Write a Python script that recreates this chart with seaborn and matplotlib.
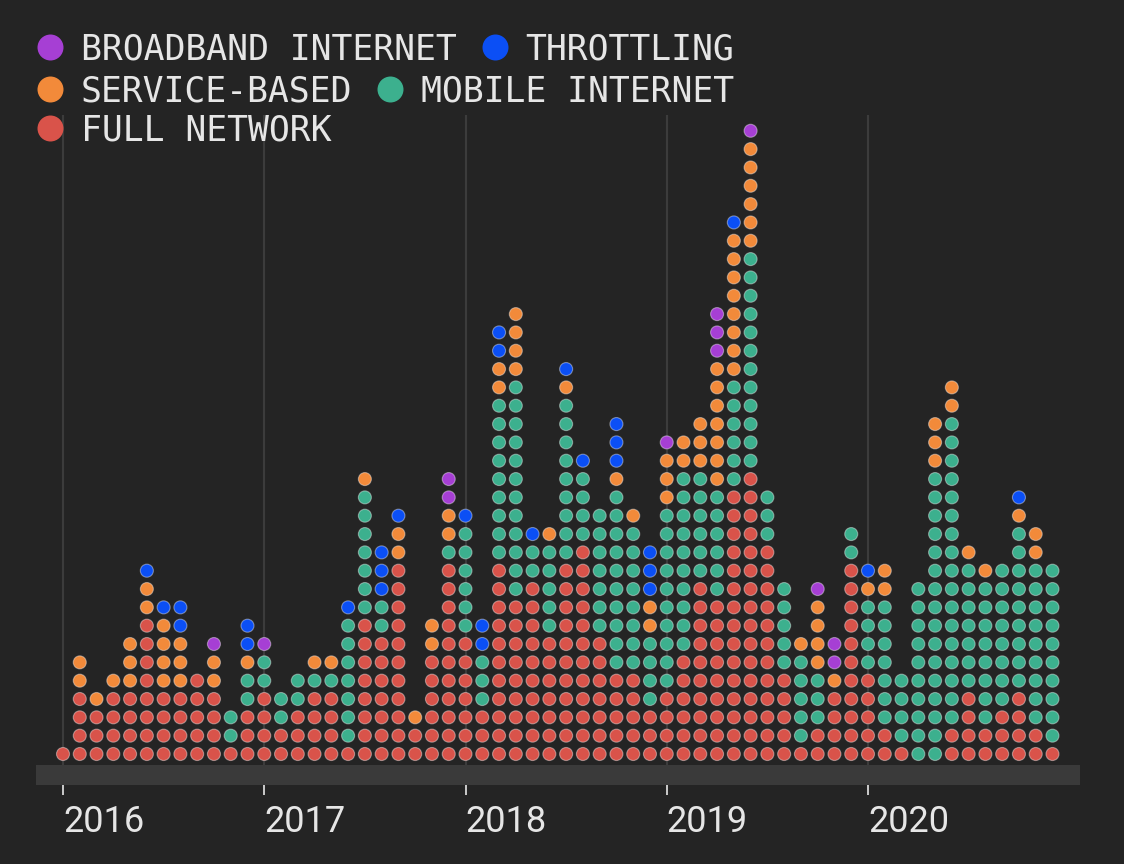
import numpy as np
import pandas as pd
import seaborn as sns
import matplotlib.pyplot as plt

# shutdown types, legend order
categories = ["BROADBAND INTERNET", "THROTTLING", "SERVICE-BASED", "MOBILE INTERNET", "FULL NETWORK"]
codes = ["B", "T", "S", "M", "F"]
colors = ["#a63fd4", "#0b4ff5", "#f28a3a", "#3cb08e", "#d9534a"]
years = [2016, 2017, 2018, 2019, 2020]

# one string per month (Jan..Dec), events stacked from the bottom up
stacks_2016 = ["F", "FFFFSS", "FFFS", "FFFFS", "FFFFSSS", "FFFFFFFFSST",
               "FFFFSSSST", "FFFFSSSTT", "FFFFF", "FFFFSSB", "FMM", "FFFMMSTT"]
stacks_2017 = ["FFFFMMB", "FFMM", "FFFMM", "FFFFMS", "FFFFMS", "FMMMMMMMT",
               "FFFFFFFFMMMMMMMS", "FFFFFFFMMTTT", "FFFFFFFFFFFSST", "FFS",
               "FFFFFFSS", "FFFFFFFFFFFMSSBB"]
stacks_2018 = ["FFFFFFFMMMMMMT", "FFFMMMTT", "FFFFFFFFFFFMMMMMMMMMSSTT",
               "FFFFFFFFFMMMMMMMMMMMMSSSS", "FFFFFFFFFFMMT", "FFFFFFFMMMMMS",
               "FFFFFFFFFFFMMMMMMMMMST", "FFFFFFFFFFFFMMMMT", "FFFFFFFMMMMMMM",
               "FFFFFMMMMMMMMMMSTTT", "FFFFFMMMMMMMMS", "FFFMMMMSSTTT"]
stacks_2019 = ["FFFFMMMMMMMMMMSSSB", "FFFFFFMMMMMMMMMMSS", "FFFFFFFFFFMMMMMMSSS",
               "FFFFFFFFFMMMMMMSSSSSSSBBB", "FFFFFFFFFFFFFFFMMMMMMSSSSSSSST",
               "FFFFFFFFFFFFFFFFMMMMMMMMMMMMSSSSSSB", "FFFFFFFFFFFFMMM",
               "FFFFFMMMMM", "FMMMMMS", "FFMMMSSSSB", "FFFFSBB", "FFFFFFFFFFFMM"]
stacks_2020 = ["FFFFFMMMMST", "FFMMMMMMMSS", "FMMMM", "MMMMMMMMMM",
               "MMMMMMMMMMMMMMMMSSS", "FFMMMMMMMMMMMMMMMMMSS", "FFFFMMMMMMMS",
               "FFMMMMMMMMS", "FFFMMMMMMMM", "FFFFMMMMMMMMMST", "FFMMMMMMMMMSS",
               "FMMMMMMMMMM"]

bg = "#242424"
band = "#3a3a3a"
txt = "#e6e6e6"

code_name = dict(zip(codes, categories))
rows = []
for yr, stacks in zip(years, [stacks_2016, stacks_2017, stacks_2018, stacks_2019, stacks_2020]):
    for m, s in enumerate(stacks):
        for k, c in enumerate(s):
            rows.append({"date": yr + m / 12, "level": k, "type": code_name[c]})
df = pd.DataFrame(rows)

fig = plt.figure(figsize=(11.24, 8.64), dpi=100, facecolor=bg)

# pixel layout of the plotting area
px_month, px_row = 201.25, 18.33
x0_px, y0_px = 63, 754
left, right, top, bottom = 36, 1080, 115, 785
ax = fig.add_axes([left / 1124, (864 - bottom) / 864, (right - left) / 1124, (bottom - top) / 864])
ax.set_facecolor(bg)
ax.set_xlim(2016 + (left - x0_px) / px_month, 2016 + (right - x0_px) / px_month)
ylo, yhi = (y0_px - bottom) / px_row, (y0_px - top) / px_row
ax.set_ylim(ylo, yhi)

ax.axhspan(ylo, (y0_px - 765) / px_row, color=band, lw=0, zorder=1)
ax.vlines(years, (y0_px - 765) / px_row, yhi, color="#3c3c3c", lw=1.5, zorder=1)

sns.scatterplot(data=df, x="date", y="level", hue="type", hue_order=categories,
                palette=dict(zip(categories, colors)), s=88,
                edgecolor=(1, 1, 1, 0.4), linewidth=0.8, legend=False, ax=ax, zorder=3)

for sp in ax.spines.values():
    sp.set_visible(False)
ax.set_xlabel("")
ax.set_ylabel("")
ax.set_yticks([])
ax.set_xticks(years)
ax.set_xticklabels([str(y) for y in years], ha="left", family=["Roboto", "DejaVu Sans"])
ax.tick_params(axis="x", length=7.5, width=1.3, color="#d8d8d8", pad=6,
               labelsize=26, labelcolor=txt)

# legend, laid out like flowing text
lax = fig.add_axes([0, 0, 1, 1], facecolor="none")
lax.set_xlim(0, 1124)
lax.set_ylim(864, 0)
lax.axis("off")
fig.canvas.draw()
renderer = fig.canvas.get_renderer()
legend_rows = [[0, 1], [2, 3], [4]]
row_y = [47, 89, 128]
for items, yc in zip(legend_rows, row_y):
    x = 50
    for k in items:
        lax.scatter([x], [yc], s=350, color=colors[k], lw=0)
        t = lax.text(x + 31, yc + 12.5, categories[k], family="DejaVu Sans Mono",
                     fontsize=25, color=txt, va="baseline", ha="left")
        bb = t.get_window_extent(renderer=renderer)
        x = bb.x1 + 38

fig.savefig("out.png", dpi=100, facecolor=bg)
